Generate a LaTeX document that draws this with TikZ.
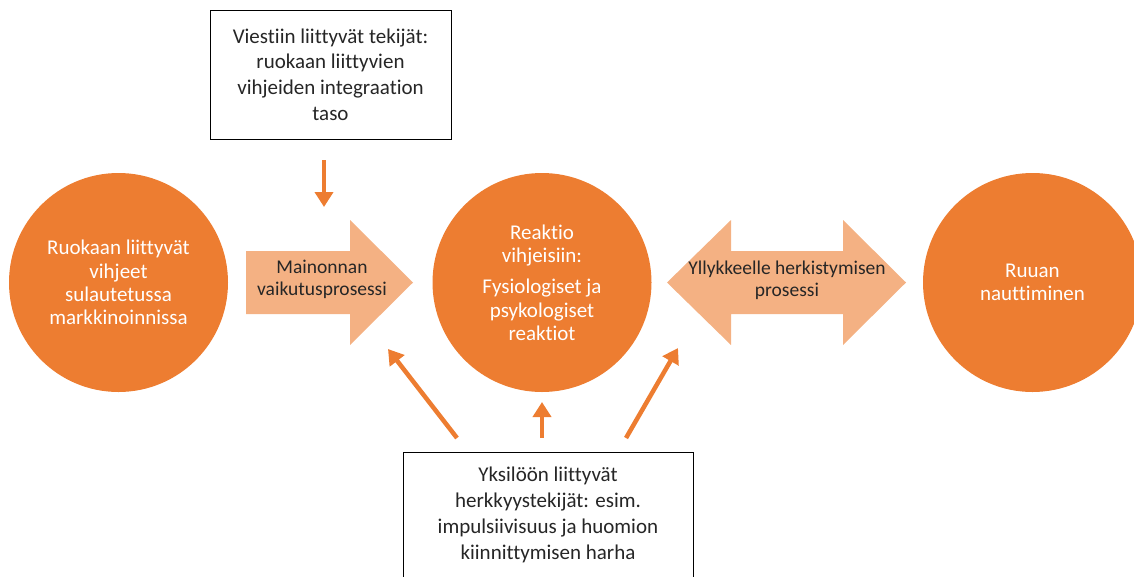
\documentclass[tikz,border=0pt]{standalone}
\usepackage{fontspec}
\setmainfont{Carlito}[Ligatures=NoCommon]
\usetikzlibrary{arrows.meta}
\definecolor{orng}{HTML}{ED7D31}
\definecolor{peach}{HTML}{F4B183}
\definecolor{txt}{HTML}{262626}
\begin{document}
\begin{tikzpicture}[x=1pt,y=-1pt,
  circ/.style={circle,fill=orng,minimum size=219pt,inner sep=0pt,text=white,align=center,font=\fontsize{21}{23.3}\selectfont},
  box/.style={draw=black,line width=0.9pt,fill=white,align=center,text=txt,inner sep=0pt,font=\fontsize{21}{25.8}\selectfont},
  blk/.style={fill=peach},
  lbl/.style={align=center,text=txt,font=\fontsize{19.5}{22}\selectfont},
  thinarr/.style={draw=orng,line width=4.5pt,-{Triangle[length=15pt,width=18pt]}}]
\useasboundingbox (0,0) rectangle (1134,576);
\clip (0,0) rectangle (1134,576);
% circles
\node[circ] (c1) at (118.5,282.5) {Ruokaan liittyvät\\vihjeet\\sulautetussa\\markkinoinnissa};
\node[circ] (c2) at (542,282.5) {Reaktio\\vihjeisiin:\\[8pt]Fysiologiset ja\\psykologiset\\reaktiot};
\node[circ] (c3) at (1032.5,282.5) {Ruuan\\nauttiminen};
% block arrows
\path[blk] (246,251) -- (350,251) -- (350,220) -- (413,282.5) -- (350,345) -- (350,314) -- (246,314) -- cycle;
\node[lbl] (a1) at (322,279) {Mainonnan\\vaikutusprosessi};
\path[blk] (667,282.5) -- (731,220) -- (731,251) -- (843,251) -- (843,220) -- (906,282.5) -- (843,345) -- (843,314) -- (731,314) -- (731,345) -- cycle;
\node[lbl] (a2) at (787,280) {Yllykkeelle herkistymisen\\prosessi};
% boxes
\node[box,minimum width=241pt,minimum height=129pt] (top) at (330.5,74.5) {Viestiin liittyvät tekijät:\\ruokaan liittyvien\\vihjeiden integraation\\taso};
\node[box,minimum width=290pt,minimum height=126pt] (bot) at (548,515) {Yksilöön liittyvät\\herkkyystekijät: esim.\\impulsiivisuus ja huomion\\kiinnittymisen harha};
% thin arrows
\coordinate (t0) at (324,160);
\coordinate (t1) at (324,207);
\coordinate (b0) at (542,438);
\coordinate (b1) at (542,402);
\coordinate (l0) at (457,438);
\coordinate (l1) at (388,349);
\coordinate (r0) at (626,438);
\coordinate (r1) at (678,348);
\draw[thinarr] (t0) -- (t1);
\draw[thinarr] (b0) -- (b1);
\draw[thinarr] (l0) -- (l1);
\draw[thinarr] (r0) -- (r1);
\end{tikzpicture}
\end{document}
